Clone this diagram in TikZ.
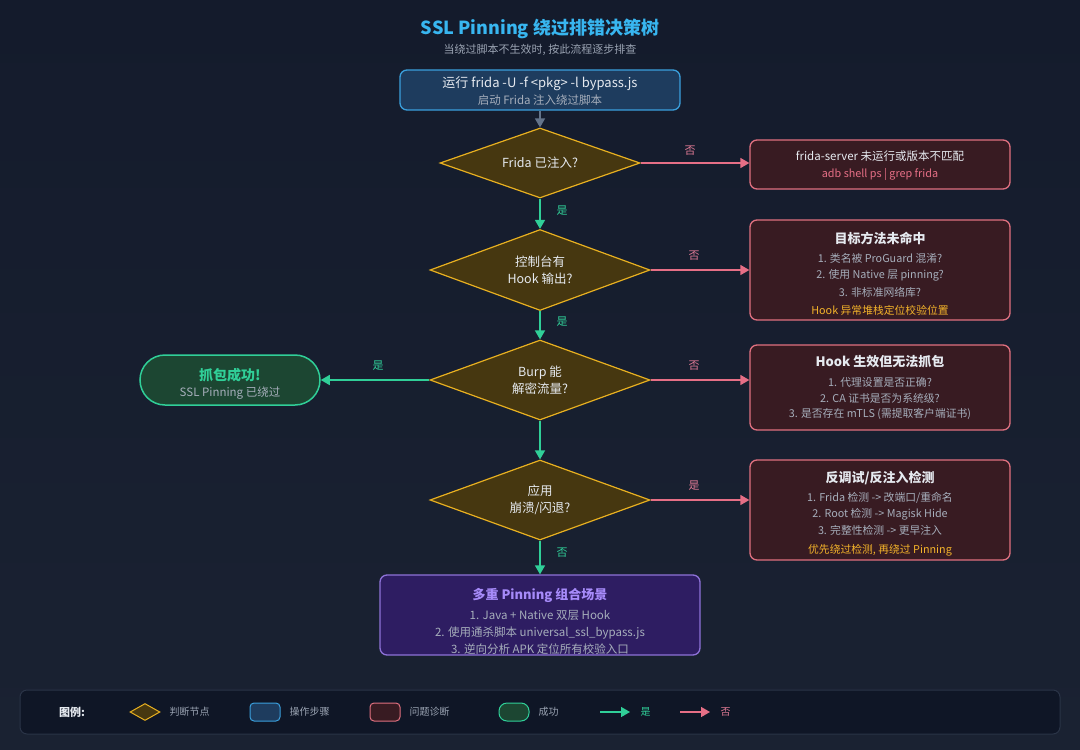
\documentclass[tikz,border=0pt]{standalone}
\usepackage{fontspec}
\setmainfont{Noto Sans CJK SC}
\usetikzlibrary{shapes.geometric,arrows.meta}
\definecolor{bgtop}{HTML}{141B2C}
\definecolor{bgbot}{HTML}{1A2232}
\definecolor{titlecol}{HTML}{38B6F0}
\definecolor{subcol}{HTML}{9AA3B2}
\definecolor{txt}{HTML}{E6EAF0}
\definecolor{gtxt}{HTML}{A6AEBB}
\definecolor{decfill}{HTML}{463710}
\definecolor{decline}{HTML}{E8B020}
\definecolor{stepfill}{HTML}{1E3C5E}
\definecolor{stepline}{HTML}{3A9FDC}
\definecolor{probfill}{HTML}{381B22}
\definecolor{probline}{HTML}{E0707F}
\definecolor{okfill}{HTML}{1C4632}
\definecolor{okline}{HTML}{30CF98}
\definecolor{multfill}{HTML}{2E1D62}
\definecolor{multline}{HTML}{8E72D8}
\definecolor{multtitle}{HTML}{A78BFA}
\definecolor{yescol}{HTML}{30CF98}
\definecolor{nocol}{HTML}{E66F86}
\definecolor{nolab}{HTML}{E07A95}
\definecolor{amber}{HTML}{F2B22A}
\definecolor{startarrow}{HTML}{64748B}
\definecolor{legfill}{HTML}{0F1626}
\definecolor{legline}{HTML}{2A3447}
\tikzset{
  f10/.style={font=\fontsize{10.8}{12}\selectfont},
  f11/.style={font=\fontsize{11.5}{13}\selectfont},
  f12/.style={font=\fontsize{13}{15}\selectfont},
  f12b/.style={font=\fontsize{13}{15}\selectfont\bfseries},
  dec/.style={diamond, aspect=2.75, draw=decline, fill=decfill, line width=1.2pt, inner sep=0pt,
     text=txt, font=\fontsize{12.5}{17}\selectfont, align=center},
  stepbox/.style={draw=stepline, fill=stepfill, rounded corners=7pt, line width=1.3pt},
  probbox/.style={draw=probline, fill=probfill, rounded corners=7pt, line width=1.3pt, minimum width=260pt},
  okbox/.style={draw=okline, fill=okfill, rounded corners=25pt, line width=1.5pt},
  multbox/.style={draw=multline, fill=multfill, rounded corners=7pt, line width=1.3pt},
  yes/.style={draw=yescol, line width=1.5pt, -{Triangle[length=9pt,width=10pt]}},
  no/.style={draw=nocol, line width=1.5pt, -{Triangle[length=9pt,width=10pt]}},
  gray arrow/.style={draw=startarrow, line width=1.5pt, -{Triangle[length=9pt,width=10pt]}},
  ylab/.style={text=yescol, font=\fontsize{11}{13}\selectfont},
  nlab/.style={text=nolab, font=\fontsize{11}{13}\selectfont},
  gl/.style={text=gtxt, f10},
  legtxt/.style={text=subcol, font=\fontsize{10}{12}\selectfont, anchor=west},
}
\begin{document}
\begin{tikzpicture}[x=1pt,y=-1pt]
\useasboundingbox (0,0) rectangle (1080,750);
\shade[top color=bgtop,bottom color=bgbot] (0,0) rectangle (1080,750);

% title
\node[text=titlecol, font=\fontsize{18}{22}\selectfont\bfseries] (title) at (540,29) {SSL Pinning 绕过排错决策树};
\node[text=subcol, font=\fontsize{11}{13}\selectfont] (subtitle) at (540,50) {当绕过脚本不生效时, 按此流程逐步排查};

% start
\node[stepbox, minimum width=280pt, minimum height=40pt] (start) at (540,90) {};
\node[text=txt, f12] (s1) at (540,84) {运行 frida -U -f <pkg> -l bypass.js};
\node[gl, f11] (s2) at (540,100) {启动 Frida 注入绕过脚本};

% decisions
\node[dec, minimum width=200pt, minimum height=70pt] (d1) at (540,163) {Frida 已注入?};
\node[dec, minimum width=220pt, minimum height=81pt] (d2) at (540,270) {控制台有\\Hook 输出?};
\node[dec, minimum width=220pt, minimum height=80pt] (d3) at (540,380) {Burp 能\\解密流量?};
\node[dec, minimum width=220pt, minimum height=80pt] (d4) at (540,500) {应用\\崩溃/闪退?};

% problem boxes
\node[probbox, minimum height=49pt] (b1) at (880,164.5) {};
\node[text=txt, f11] (b1a) at (880,156) {frida-server 未运行或版本不匹配};
\node[text=nocol, f10] (b1b) at (880,174) {adb shell ps | grep frida};

\node[probbox, minimum height=100pt] (b2) at (880,270) {};
\node[text=txt, f12b] (b2a) at (880,238) {目标方法未命中};
\node[gl] (b2b) at (880,258) {1. 类名被 ProGuard 混淆?};
\node[gl] (b2c) at (880,275) {2. 使用 Native 层 pinning?};
\node[gl] (b2d) at (880,292) {3. 非标准网络库?};
\node[text=amber, f10] (b2e) at (880,310) {Hook 异常堆栈定位校验位置};

\node[probbox, minimum height=85pt] (b3) at (880,387.5) {};
\node[text=txt, f12b] (b3a) at (880,362) {Hook 生效但无法抓包};
\node[gl] (b3b) at (880,382) {1. 代理设置是否正确?};
\node[gl] (b3c) at (880,398) {2. CA 证书是否为系统级?};
\node[gl] (b3d) at (880,414) {3. 是否存在 mTLS (需提取客户端证书)};

\node[probbox, minimum height=100pt] (b4) at (880,510) {};
\node[text=txt, f12b] (b4a) at (880,478) {反调试/反注入检测};
\node[gl] (b4b) at (880,498) {1. Frida 检测 -> 改端口/重命名};
\node[gl] (b4c) at (880,514) {2. Root 检测 -> Magisk Hide};
\node[gl] (b4d) at (880,530) {3. 完整性检测 -> 更早注入};
\node[text=amber, f10] (b4e) at (880,550) {优先绕过检测, 再绕过 Pinning};

% success
\node[okbox, minimum width=180pt, minimum height=50pt] (ok) at (230,380) {};
\node[text=okline, font=\fontsize{14}{16}\selectfont\bfseries] (oka) at (230,375) {抓包成功!};
\node[gl, f11] (okb) at (230,393) {SSL Pinning 已绕过};

% multi
\node[multbox, minimum width=320pt, minimum height=80pt] (b5) at (540,615) {};
\node[text=multtitle, f12b] (b5a) at (540,595) {多重 Pinning 组合场景};
\node[gl, f11] (b5b) at (540,615) {1. Java + Native 双层 Hook};
\node[gl, f11] (b5c) at (540,633) {2. 使用通杀脚本 universal\_ssl\_bypass.js};
\node[gl, f11] (b5d) at (540,649) {3. 逆向分析 APK 定位所有校验入口};

% connectors
\draw[gray arrow] (start.south) -- (d1.north);
\draw[no] (d1.east) -- (b1.west |- d1.east);
\node[nlab] (l1) at (690,151) {否};
\draw[yes] (d1.south) -- (d2.north);
\node[ylab] (l2) at (562,211) {是};
\draw[no] (d2.east) -- (b2.west |- d2.east);
\node[nlab] (l3) at (694,256) {否};
\draw[yes] (d2.south) -- (d3.north);
\node[ylab] (l4) at (562,322) {是};
\draw[yes] (d3.west) -- (ok.east);
\node[ylab] (l5) at (378,366) {是};
\draw[no] (d3.east) -- (b3.west |- d3.east);
\node[nlab] (l6) at (694,366) {否};
\draw[yes] (d3.south) -- (d4.north);
\draw[no] (d4.east) -- (b4.west |- d4.east);
\node[nlab] (l7) at (694,486) {是};
\draw[yes] (d4.south) -- (b5.north);
\node[ylab] (l8) at (562,553) {否};

% legend
\draw[draw=legline, fill=legfill, rounded corners=7pt, line width=1pt] (20,690) rectangle (1060,734);
\node[text=txt, font=\fontsize{11}{13}\selectfont\bfseries] (legt) at (72,712) {图例:};
\node[diamond, draw=decline, fill=decfill, line width=1pt, inner sep=0pt, minimum width=30pt, minimum height=17pt] (lg1) at (145,712) {};
\node[legtxt] (lg1t) at (166,712) {判断节点};
\node[stepbox, rounded corners=4pt, minimum width=30pt, minimum height=18pt, line width=1pt] (lg2) at (265,712) {};
\node[legtxt] (lg2t) at (286,712) {操作步骤};
\node[probbox, rounded corners=4pt, minimum width=30pt, minimum height=18pt, line width=1pt] (lg3) at (385,712) {};
\node[legtxt] (lg3t) at (406,712) {问题诊断};
\node[okbox, rounded corners=8pt, minimum width=30pt, minimum height=18pt, line width=1pt] (lg4) at (514,712) {};
\node[legtxt] (lg4t) at (535,712) {成功};
\coordinate (ya) at (600,712);
\coordinate (yb) at (630,712);
\draw[yes] (ya) -- (yb);
\node[ylab, font=\fontsize{10}{12}\selectfont, anchor=west] (lg5t) at (637,712) {是};
\coordinate (na) at (680,712);
\coordinate (nb) at (710,712);
\draw[no] (na) -- (nb);
\node[nlab, font=\fontsize{10}{12}\selectfont, anchor=west] (lg6t) at (717,712) {否};
\end{tikzpicture}
\end{document}
